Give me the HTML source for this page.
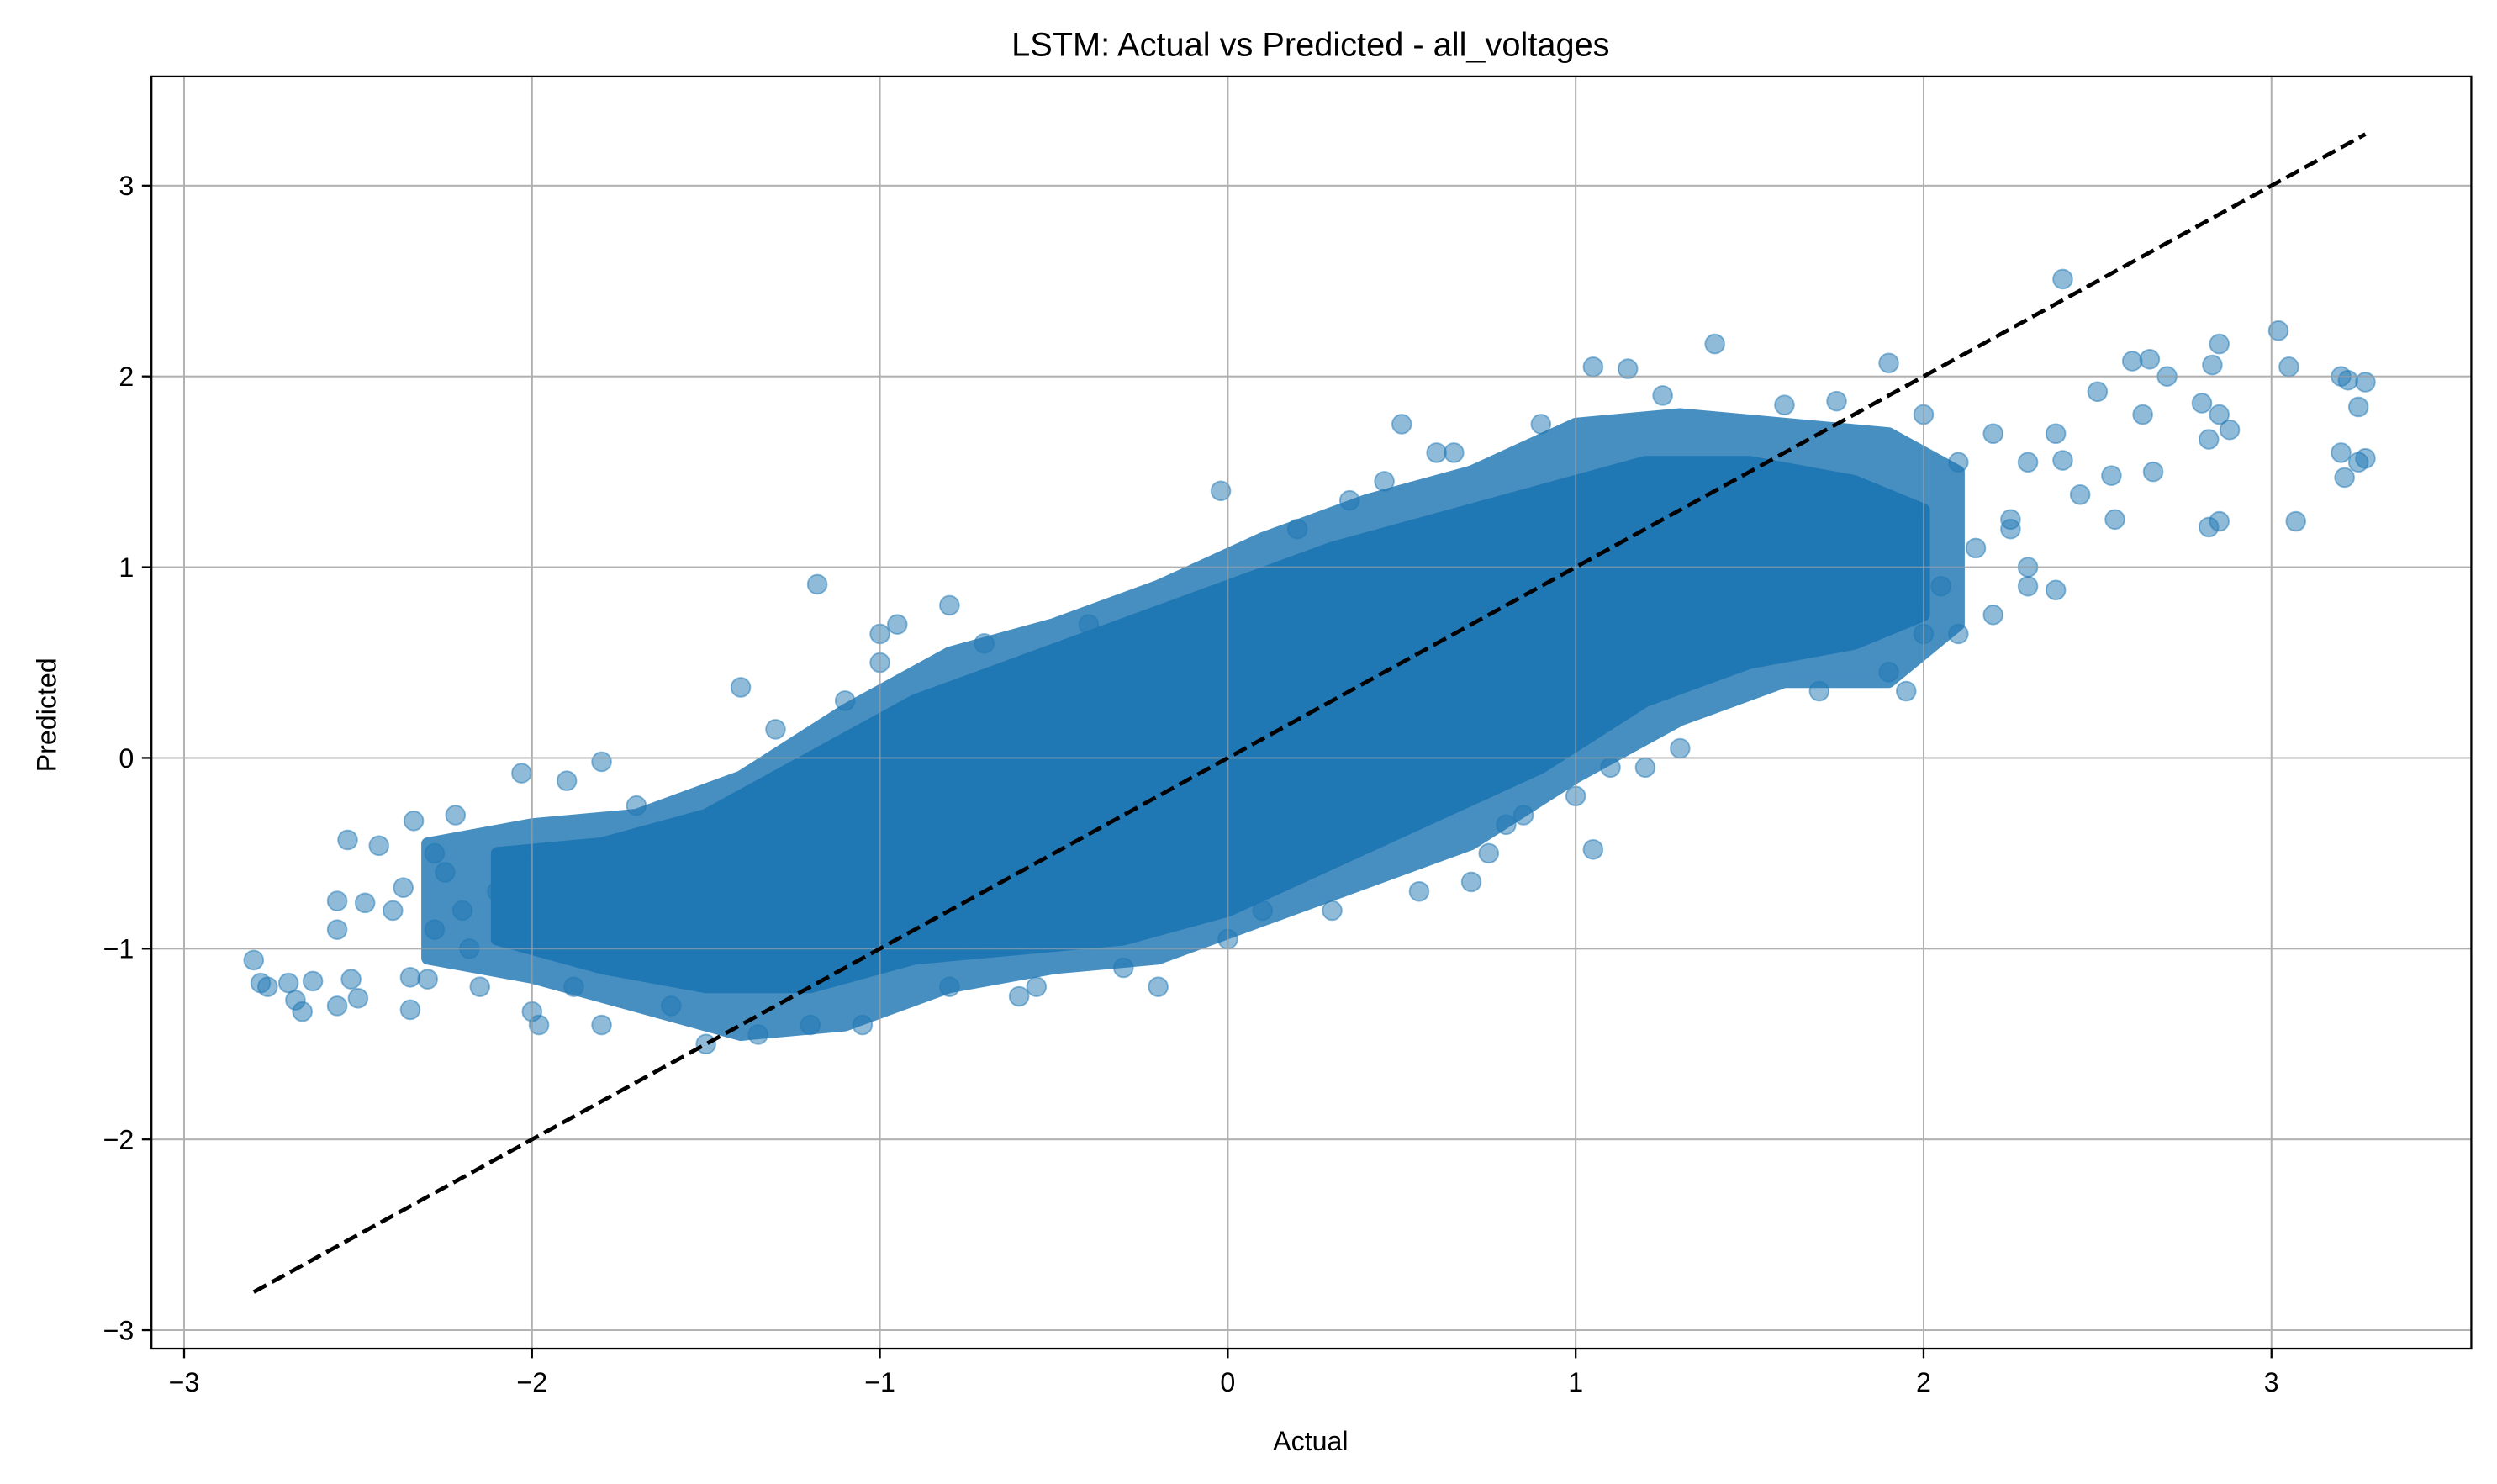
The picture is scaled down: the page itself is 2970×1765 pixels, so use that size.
<!DOCTYPE html>
<html><head><meta charset="utf-8"><style>
html,body{margin:0;padding:0;background:#fff}
svg{display:block;font-family:"Liberation Sans","DejaVu Sans",sans-serif}
</style></head><body>
<svg id="chart" width="2970" height="1765" viewBox="0 0 1568 932" xmlns="http://www.w3.org/2000/svg">
<rect width="1568" height="932" fill="#fff"/>
<text x="823" y="35" font-size="21" text-anchor="middle" fill="#000">LSTM: Actual vs Predicted - all_voltages</text>
<g id="grid"></g>
<g id="marks"></g>
<g id="overlay"></g>
<rect x="95" y="48" width="1457" height="799" fill="none" stroke="#000" stroke-width="1.2"/>
<g id="ticks"></g>
<text x="823" y="911" font-size="17" text-anchor="middle">Actual</text>
<text x="0" y="0" font-size="17" text-anchor="middle" transform="translate(35,449) rotate(-90)">Predicted</text>
</svg>
<script>
const xTicks=[-3,-2,-1,0,1,2,3];
const yTicks=[-3,-2,-1,0,1,2,3];
const tickLabels=['\u22123','\u22122','\u22121','0','1','2','3'];
const outerX=[-2.3,-2.0,-1.7,-1.4,-1.1,-0.8,-0.5,-0.2,0.1,0.4,0.7,1.0,1.3,1.6,1.9,2.1];
const outerLo=[-1.05,-1.15,-1.3,-1.45,-1.4,-1.2,-1.1,-1.05,-0.85,-0.65,-0.45,-0.1,0.2,0.4,0.4,0.7];
const outerHi=[-0.45,-0.35,-0.3,-0.1,0.25,0.55,0.7,0.9,1.15,1.35,1.5,1.75,1.8,1.75,1.7,1.5];
const innerX=[-2.1,-1.8,-1.5,-1.2,-0.9,-0.6,-0.3,0.0,0.3,0.6,0.9,1.2,1.5,1.8,2.0];
const innerLo=[-0.95,-1.1,-1.2,-1.2,-1.05,-1.0,-0.95,-0.8,-0.55,-0.3,-0.05,0.3,0.5,0.6,0.75];
const innerHi=[-0.5,-0.45,-0.3,0.0,0.3,0.5,0.7,0.9,1.1,1.25,1.4,1.55,1.55,1.45,1.3];
const ptsX=[-2.8,-2.78,-2.76,-2.7,-2.68,-2.66,-2.63,-2.56,-2.56,-2.56,-2.53,-2.52,-2.5,-2.48,-2.44,-2.4,-2.37,-2.35,-2.35,-2.34,-2.3,-2.28,-2.28,-2.25,-2.22,-2.2,-2.18,-2.15,-2.1,-2.05,-2.03,-2.0,-1.98,-1.95,-1.9,-1.88,-1.8,-1.8,-1.7,-1.6,-1.5,-1.4,-1.35,-1.2,-1.18,-1.1,-1.0,-0.95,-0.8,-1.05,-0.8,-0.55,-0.2,0,0.3,0.55,0.7,0.75,0.85,1.0,1.05,1.1,-0.02,0.5,0.6,0.2,1.05,1.15,1.4,1.25,1.6,1.75,1.9,2.4,2.5,2.6,2.65,2.7,2.85,2.83,3.02,3.05,3.2,3.22,3.27,3.25,3.2,3.21,3.25,3.27,3.07,2.82,2.85,2.88,2.85,2.8,2.82,2.63,2.66,2.55,2.54,2.45,2.4,2.38,2.3,2.38,2.3,2.2,2.1,2.25,1.95,1.9,1.7,2.0,2.05,2.0,2.1,2.2,-1.3,-1.0,-0.7,-0.4,0.35,0.45,0.65,0.9,0.8,1.2,1.3,2.15,2.25,2.3,-0.3,-0.6,0.1];
const ptsY=[-1.06,-1.18,-1.2,-1.18,-1.27,-1.33,-1.17,-0.75,-0.9,-1.3,-0.43,-1.16,-1.26,-0.76,-0.46,-0.8,-0.68,-1.15,-1.32,-0.33,-1.16,-0.5,-0.9,-0.6,-0.3,-0.8,-1.0,-1.2,-0.7,-0.9,-0.08,-1.33,-1.4,-0.6,-0.12,-1.2,-1.4,-0.02,-0.25,-1.3,-1.5,0.37,-1.45,-1.4,0.91,0.3,0.65,0.7,0.8,-1.4,-1.2,-1.2,-1.2,-0.95,-0.8,-0.7,-0.65,-0.5,-0.3,-0.2,-0.48,-0.05,1.4,1.75,1.6,1.2,2.05,2.04,2.17,1.9,1.85,1.87,2.07,2.51,1.92,2.08,2.09,2.0,2.17,2.06,2.24,2.05,2.0,1.98,1.97,1.84,1.6,1.47,1.55,1.57,1.24,1.21,1.24,1.72,1.8,1.86,1.67,1.8,1.5,1.25,1.48,1.38,1.56,1.7,1.55,0.88,1.0,0.75,0.65,1.2,0.35,0.45,0.35,0.65,0.9,1.8,1.55,1.7,0.15,0.5,0.6,0.7,1.35,1.45,1.6,1.75,-0.35,-0.05,0.05,1.1,1.25,0.9,-1.1,-1.25,-0.8];
const diagStart=-2.8, diagEnd=3.27;

const NS='http://www.w3.org/2000/svg';
const sx=v=>771+v*218.5;
const sy=v=>476-v*119.8;
function mk(tag,attrs,parent){const e=document.createElementNS(NS,tag);for(const k in attrs)e.setAttribute(k,attrs[k]);parent.appendChild(e);return e;}
const grid=document.getElementById('grid'),marks=document.getElementById('marks'),ticks=document.getElementById('ticks'),overlay=document.getElementById('overlay');
xTicks.forEach((t,i)=>{
  const g=mk('line',{x1:sx(t),x2:sx(t),y1:48,y2:847,stroke:'#b0b0b0','stroke-width':1},grid);
  
  
  const gl=mk('line',{x1:sx(t),x2:sx(t),y1:48,y2:847,stroke:'#b0b0b0','stroke-width':1,'stroke-opacity':0.55},overlay);
  
  
  const tk=mk('line',{x1:sx(t),x2:sx(t),y1:847,y2:853,stroke:'#000','stroke-width':1.2},ticks);
  
  
  const tx=mk('text',{x:sx(t),y:874,'font-size':17,'text-anchor':'middle'},ticks);
  tx.textContent=tickLabels[i];
  
  
});
yTicks.forEach((t,i)=>{
  const g=mk('line',{x1:95,x2:1552,y1:sy(t),y2:sy(t),stroke:'#b0b0b0','stroke-width':1},grid);
  
  
  const gl=mk('line',{x1:95,x2:1552,y1:sy(t),y2:sy(t),stroke:'#b0b0b0','stroke-width':1,'stroke-opacity':0.55},overlay);
  
  
  const tk=mk('line',{x1:89,x2:95,y1:sy(t),y2:sy(t),stroke:'#000','stroke-width':1.2},ticks);
  
  
  const tx=mk('text',{x:84,y:sy(t)+6,'font-size':17,'text-anchor':'end'},ticks);
  tx.textContent=tickLabels[i];
  
  
});
function band(xs,lo,hi,op,name){
  let p=xs.map((x,i)=>sx(x)+','+sy(hi[i]));
  p=p.concat(xs.slice().reverse().map((x,j)=>{const i=xs.length-1-j;return sx(x)+','+sy(lo[i]);}));
  const e=mk('polygon',{points:p.join(' '),fill:'#1f77b4',stroke:'#1f77b4','stroke-width':8,'stroke-linejoin':'round',opacity:op},marks);
  
  
}
band(outerX,outerLo,outerHi,0.82,'scatter-density-outer');
band(innerX,innerLo,innerHi,1,'scatter-density-core');
ptsX.forEach((x,i)=>{
  const c=mk('circle',{cx:sx(x),cy:sy(ptsY[i]),r:6,fill:'#1f77b4','fill-opacity':0.5,stroke:'#1f77b4','stroke-opacity':0.5,'stroke-width':1},marks);
  
  
});
const d=mk('line',{x1:sx(diagStart),y1:sy(diagStart),x2:sx(diagEnd),y2:sy(diagEnd),stroke:'#000','stroke-width':2.5,'stroke-dasharray':'9,4'},overlay);


</script>
</body></html>
